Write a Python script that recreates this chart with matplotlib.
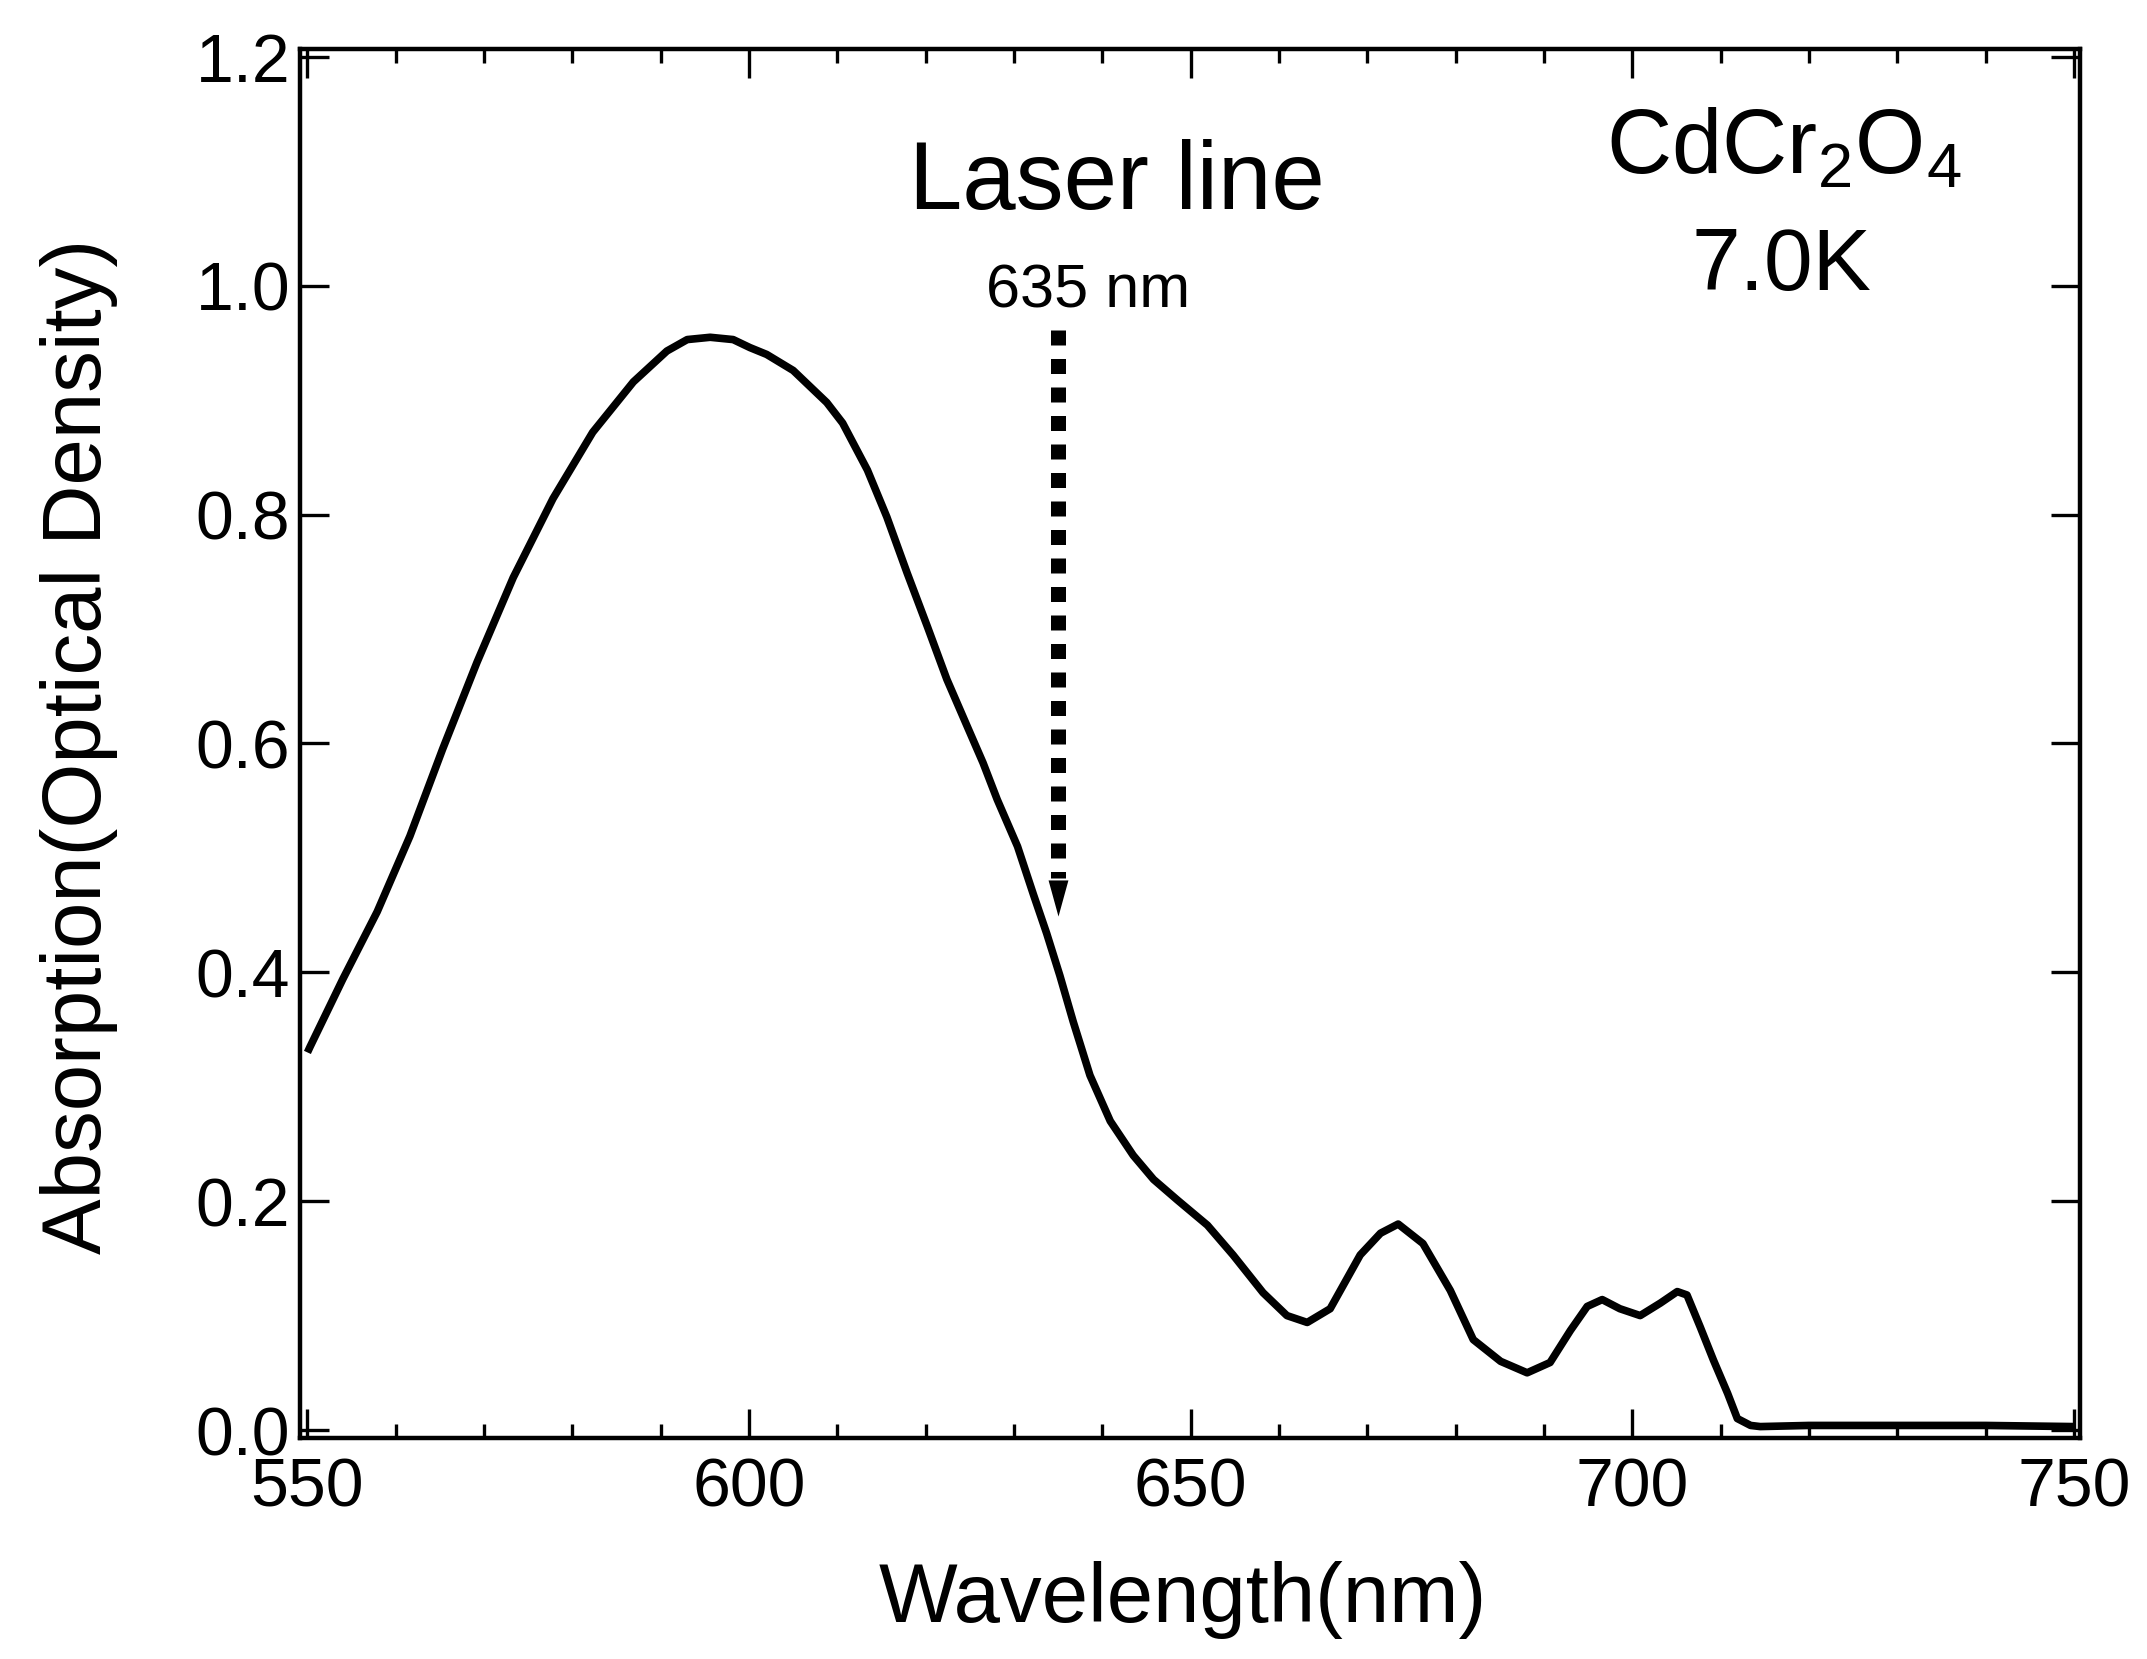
import matplotlib
matplotlib.use("Agg")
import matplotlib.pyplot as plt
from matplotlib.ticker import MultipleLocator, FormatStrFormatter

# ---- data ----
wavelength = [550.0, 550.3, 554.0, 557.9, 561.6, 565.3, 569.2, 573.3, 577.8, 582.3,
              586.9, 590.7, 593.0, 595.6, 598.2, 600.1, 602.0, 605.0, 608.8, 610.6,
              613.4, 615.6, 617.9, 620.2, 622.4, 624.7, 626.5, 628.1, 630.4, 632.2,
              633.7, 635.2, 636.7, 638.6, 640.9, 643.5, 645.8, 648.5, 651.9, 654.8,
              658.2, 660.9, 663.2, 665.8, 669.2, 671.5, 673.5, 676.3, 679.4, 682.0,
              685.1, 688.1, 690.7, 693.0, 694.9, 696.6, 698.6, 700.9, 703.2, 705.1,
              706.2, 707.7, 709.2, 710.8, 711.9, 713.4, 714.5, 720.0, 730.0, 740.0, 750.0]
absorption = [0.330, 0.335, 0.394, 0.453, 0.519, 0.595, 0.671, 0.745, 0.814, 0.872,
              0.916, 0.943, 0.953, 0.955, 0.953, 0.946, 0.940, 0.926, 0.898, 0.880,
              0.839, 0.798, 0.749, 0.702, 0.656, 0.615, 0.583, 0.551, 0.510, 0.468,
              0.434, 0.397, 0.357, 0.310, 0.270, 0.240, 0.219, 0.201, 0.179, 0.153,
              0.120, 0.100, 0.094, 0.106, 0.153, 0.172, 0.180, 0.163, 0.122, 0.079,
              0.060, 0.050, 0.059, 0.087, 0.108, 0.114, 0.106, 0.100, 0.111, 0.121,
              0.118, 0.090, 0.061, 0.032, 0.010, 0.004, 0.003, 0.004, 0.004, 0.004, 0.003]

laser_nm = 635.0
arrow_top = 0.961
arrow_base = 0.482
arrow_tip = 0.448

x_ticks = [550, 600, 650, 700, 750]
y_ticks = [0.0, 0.2, 0.4, 0.6, 0.8, 1.0, 1.2]

# ---- style ----
FONT = ["Liberation Sans", "DejaVu Sans"]
plt.rcParams["font.family"] = FONT
plt.rcParams["mathtext.fontset"] = "custom"
plt.rcParams["mathtext.rm"] = "Liberation Sans"
plt.rcParams["mathtext.it"] = "Liberation Sans:italic"
plt.rcParams["mathtext.bf"] = "Liberation Sans:bold"

DPI = 100
fig = plt.figure(figsize=(21.47, 16.59), dpi=DPI)
ax = fig.add_axes([0.1397, 0.1332, 0.9688 - 0.1397, 0.9705 - 0.1332])

ax.plot(wavelength, absorption, color="black", lw=5.5, solid_joinstyle="round",
        solid_capstyle="butt")

# laser line arrow (dashed shaft + narrow triangular head)
ax.plot([laser_nm, laser_nm], [arrow_top, arrow_base], color="black", lw=10.8,
        dashes=(1.0, 0.9), dash_capstyle="butt")
tri = [(-0.55, 1.0), (0.55, 1.0), (0.0, -1.0)]
ax.plot([laser_nm], [(arrow_base + arrow_tip) / 2], marker=tri, markersize=26,
        color="black", markeredgewidth=0, linestyle="none")

ax.set_xlim(549.15, 750.7)
ax.set_ylim(-0.007, 1.207)

ax.set_xticks(x_ticks)
ax.set_yticks(y_ticks)
ax.xaxis.set_minor_locator(MultipleLocator(10))
ax.yaxis.set_major_formatter(FormatStrFormatter("%.1f"))

for s in ax.spines.values():
    s.set_linewidth(3.2)

ax.tick_params(axis="both", which="both", direction="in", top=True, right=True,
               colors="black")
ax.tick_params(axis="both", which="major", length=21, width=2.4, labelsize=49)
ax.tick_params(axis="both", which="minor", length=10, width=2.4)
ax.tick_params(axis="x", which="major", pad=13)
ax.tick_params(axis="y", which="major", pad=7)

# labels
fig.text(1183 / 2147, 1 - 1622 / 1659, "Wavelength(nm)", ha="center", va="baseline",
         fontsize=60)
fig.text(79 / 2147, 1 - 746 / 1659, "Absorption(Optical Density)", ha="center",
         va="center", rotation=90, fontsize=60)

# annotations
ax.text(641.6, 1.067, "Laser line", ha="center", va="baseline", fontsize=69)
ax.text(638.4, 0.981, "635 nm", ha="center", va="baseline", fontsize=44)
ax.text(717.2, 1.098, r"CdCr$_\mathregular{2}$O$_\mathregular{4}$", ha="center",
        va="baseline", fontsize=65)
ax.text(716.9, 0.996, "7.0K", ha="center", va="baseline", fontsize=63)

fig.savefig("out.png", dpi=DPI, facecolor="white")
